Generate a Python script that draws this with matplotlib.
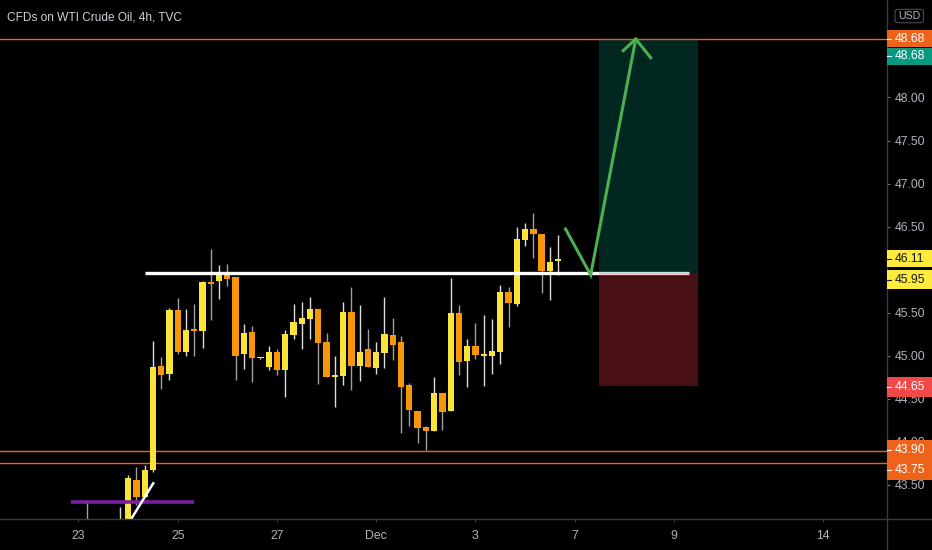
import numpy as np
import matplotlib
matplotlib.use("Agg")
import matplotlib.pyplot as plt
from matplotlib.patches import Rectangle, FancyBboxPatch
from matplotlib.lines import Line2D

plt.rcParams['font.family'] = ['Liberation Sans', 'DejaVu Sans']

TITLE = "CFDs on WTI Crude Oil, 4h, TVC"

# ---- candle data (4h bars, x = bar index) ----
bar_index = list(range(1, 59))
nan = np.nan
opens = [43.05, nan, nan, nan, 43.00, 43.00, 43.56, 43.36, 43.67, 44.885,
         44.79, 45.53, 45.05, 45.31, 45.29, 45.86, 45.87, 45.965, 45.91, 45.02,
         45.28, 44.97, 44.87, 45.05, 44.83, 45.24, 45.37, 45.43, 45.54, 45.16,
         44.75, 44.77, 45.51, 44.88, 45.08, 44.855, 45.03, 45.24, 45.16, 44.66,
         44.36, 44.17, 44.13, 44.57, 44.36, 45.50, 44.94, 45.11, 45.00, 45.00,
         45.05, 45.74, 45.60, 46.35, 46.47, 46.42, 45.985, 46.10]
highs = [43.33, nan, nan, nan, 43.24, 43.615, 43.71, 43.73, 45.175, 44.99,
         45.55, 45.67, 45.54, 45.60, 45.87, 46.24, 46.06, 46.07, 45.92, 45.37,
         45.35, 44.99, 45.11, 45.08, 45.30, 45.60, 45.63, 45.68, 45.54, 45.27,
         45.00, 45.62, 45.80, 45.59, 45.31, 45.16, 45.68, 45.44, 45.23, 44.69,
         44.36, 44.19, 44.75, 44.57, 45.90, 45.59, 45.20, 45.38, 45.47, 45.43,
         45.82, 45.80, 46.50, 46.54, 46.66, 46.42, 46.26, 46.40]
lows = [42.90, nan, nan, nan, 42.90, 42.95, 43.27, 43.36, 43.65, 44.62,
        44.72, 45.02, 45.00, 45.00, 45.09, 45.42, 45.66, 45.81, 44.72, 44.85,
        44.70, 44.96, 44.83, 44.78, 44.525, 45.20, 45.08, 45.19, 44.67, 44.75,
        44.40, 44.66, 44.60, 44.71, 44.87, 44.79, 44.855, 44.95, 44.10, 44.18,
        43.99, 43.91, 44.13, 44.14, 44.36, 44.78, 44.64, 44.96, 44.65, 44.79,
        44.90, 45.34, 45.58, 46.27, 46.14, 45.73, 45.65, 45.94]
closes = [43.00, nan, nan, nan, 43.05, 43.58, 43.36, 43.67, 44.87, 44.78,
          45.53, 45.05, 45.30, 45.29, 45.86, 45.83, 45.965, 45.895, 45.00, 45.26,
          44.97, 44.98, 45.05, 44.84, 45.25, 45.39, 45.44, 45.54, 45.15, 44.75,
          44.77, 45.51, 44.88, 45.05, 44.87, 45.05, 45.25, 45.13, 44.64, 44.37,
          44.16, 44.13, 44.57, 44.35, 45.50, 44.93, 45.11, 45.01, 45.02, 45.06,
          45.74, 45.61, 46.36, 46.47, 46.41, 45.985, 46.09, 46.11]

# ---- axis ticks ----
x_tick_pos = [0, 12, 24, 36, 48, 60, 72, 90]
x_tick_labels = ["23", "25", "27", "Dec", "3", "7", "9", "14"]
y_ticks = [43.5, 44.0, 44.5, 45.0, 45.5, 46.5, 47.0, 47.5, 48.0]

# ---- drawings (in bar index / price units) ----
orange_levels = [48.68, 43.90, 43.75]
entry_price = 45.96
target_price = 48.68
stop_price = 44.65
last_price = 46.11
support_x = [8.0, 73.86]
box_x = [62.97, 74.87]
arrow_x = [58.89, 61.93, 67.38]
arrow_y = [46.473, 45.939, 48.679]
arrow_head_x = [65.87, 67.38, 69.19]
arrow_head_y = [48.544, 48.679, 48.462]
purple_x = [-0.94, 13.97]
purple_y = [43.305, 43.305]
diag_x = [6.43, 9.04]
diag_y = [43.115, 43.52]

# ---- styling ----
BG = "black"
UP = "#fbe43a"
DOWN = "#f7960a"
UP_WICK = "#dcdcdc"
DOWN_WICK = "#a0a0a0"
ORANGE = "#ee6219"
TEXT = "#b2b5be"
GRID = "#363a45"
FS = 8.8

W, H = 932, 550
fig = plt.figure(figsize=(W / 100, H / 100), dpi=100, facecolor=BG)
ax = fig.add_axes([0, 31 / H, 887 / W, 519 / H])
ax.set_facecolor(BG)
ax.set_xlim(-9.49, 97.76)
ax.set_ylim(43.105, 49.132)

for s in ax.spines.values():
    s.set_visible(False)

# candles
for k, o, h, l, c in zip(bar_index, opens, highs, lows, closes):
    if np.isnan(o):
        continue
    up = c >= o
    ax.vlines(k, l, h, color=UP_WICK if up else DOWN_WICK, lw=1.0, zorder=2)
    body_h = max(abs(c - o), 0.022)
    ax.add_patch(Rectangle((k - 0.38, min(o, c)), 0.76, body_h,
                           facecolor=UP if up else DOWN, edgecolor='none', zorder=3))

# horizontal orange levels
for p in orange_levels:
    ax.axhline(p, color=ORANGE, lw=1.0, zorder=1)

# support line
ax.plot(support_x, [entry_price, entry_price], color="white", lw=2.4, zorder=4,
        solid_capstyle='butt')

# long position boxes
ax.add_patch(Rectangle((box_x[0], entry_price), box_x[1] - box_x[0], target_price - entry_price,
                       facecolor="#089981", alpha=0.25, edgecolor='none', zorder=5))
ax.add_patch(Rectangle((box_x[0], stop_price), box_x[1] - box_x[0], entry_price - stop_price,
                       facecolor="#f23645", alpha=0.30, edgecolor='none', zorder=5))

# green arrow
ax.plot(arrow_x, arrow_y, color="#4caf50", lw=2.2, zorder=6, solid_joinstyle='miter')
ax.plot(arrow_head_x, arrow_head_y, color="#4caf50", lw=2.2, zorder=6)

# purple line and white diagonal
ax.plot(purple_x, purple_y, color="#7b1fa2", lw=2.6, zorder=4, solid_capstyle='butt')
ax.plot(diag_x, diag_y, color="white", lw=1.8, zorder=4)

# ticks
ax.set_xticks(x_tick_pos)
ax.set_xticklabels(x_tick_labels)
ax.set_yticks(y_ticks)
ax.set_yticklabels([f"{v:.2f}" for v in y_ticks])
ax.yaxis.tick_right()
ax.tick_params(axis='x', colors=GRID, labelcolor=TEXT, length=2.5, width=0.8,
               pad=5.5, labelsize=FS)
ax.tick_params(axis='y', colors="#787b86", labelcolor=TEXT, length=2.5, width=0.8,
               pad=3.0, labelsize=FS)

# separators
fig.add_artist(Line2D([0, 1], [31 / H, 31 / H], color=GRID, lw=1.0, zorder=3))
fig.add_artist(Line2D([887 / W, 887 / W], [0, 1], color=GRID, lw=1.0, zorder=3))

# title
fig.text(7 / W, 1 - 17.5 / H, TITLE, color="#cfd1d6", fontsize=8.6, va='center', ha='left')

# USD box
fig.add_artist(FancyBboxPatch((895 / W, 1 - 22.7 / H), 28.5 / W, 13.4 / H,
                              boxstyle="round,pad=0,rounding_size=0.004",
                              transform=fig.transFigure, facecolor=BG,
                              edgecolor="#4a4d57", lw=0.8, zorder=5))
fig.text(909.2 / W, 1 - 16 / H, "USD", color=TEXT, fontsize=7.6, va='center', ha='center',
         zorder=6)


def price_label(price, text, bg, fg, shift_px=0.0, hgt=17.0):
    y = ax.transData.transform((0, price))[1] - shift_px
    fig.add_artist(Rectangle((887 / W, (y - hgt / 2) / H), 45 / W, hgt / H,
                             transform=fig.transFigure, facecolor=bg, edgecolor='none',
                             zorder=7))
    fig.add_artist(Line2D([887 / W, 890.5 / W], [y / H, y / H], color=fg, lw=0.8, zorder=8))
    fig.text(894.5 / W, y / H, text, color=fg, fontsize=FS, va='center', ha='left', zorder=8)


price_label(target_price, f"{target_price:.2f}", ORANGE, "white")
price_label(target_price, f"{target_price:.2f}", "#089981", "white", shift_px=17.5)
price_label(last_price, f"{last_price:.2f}", "#ffeb3b", "#131722", shift_px=-1.5, hgt=17)
price_label(45.95, "45.95", "#ffeb3b", "#131722", shift_px=5.5, hgt=19)
price_label(stop_price, f"{stop_price:.2f}", "#f14848", "white", shift_px=0.8, hgt=20)
price_label(orange_levels[1], f"{orange_levels[1]:.2f}", ORANGE, "white", shift_px=-0.5, hgt=20)
price_label(orange_levels[2], f"{orange_levels[2]:.2f}", ORANGE, "white", shift_px=6.8, hgt=20)

fig.savefig("out.png", dpi=100, facecolor=BG)
